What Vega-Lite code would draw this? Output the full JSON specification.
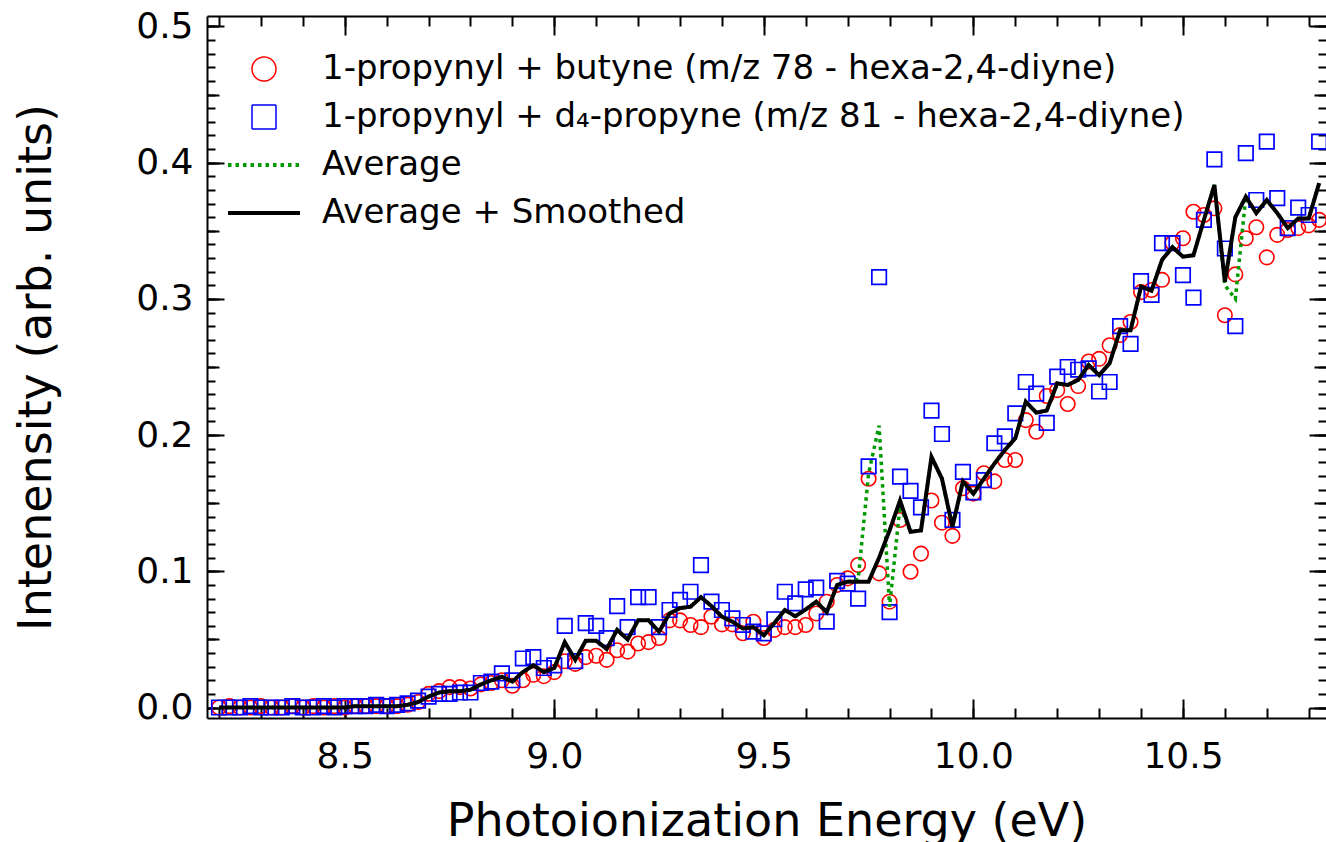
{
"$schema":"https://vega.github.io/schema/vega-lite/v6.json",
"width":1119,"height":702,
"autosize":{"type":"none"},
"padding":{"left":207,"top":16,"right":0,"bottom":124},
"background":"white",
"config":{"view":{"stroke":null},
 "axis":{"grid":false,"domainColor":"black","domainWidth":2,"tickColor":"black","tickWidth":2,"labelFont":"DejaVu Sans","labelFontSize":36,"labelColor":"black","titleFont":"DejaVu Sans","titleFontSize":46,"titleFontWeight":"normal","titleColor":"black","labelFlush":false,"labelOverlap":false}},
"data":{"values":[
{"x":8.2,"butyne":0,"propyne":0,"average":0,"smoothed":0},
{"x":8.225,"butyne":0.001,"propyne":0,"average":0,"smoothed":0},
{"x":8.25,"butyne":0,"propyne":0,"average":0,"smoothed":0},
{"x":8.275,"butyne":0,"propyne":0.001,"average":0,"smoothed":0},
{"x":8.3,"butyne":0.001,"propyne":0,"average":0,"smoothed":0},
{"x":8.325,"butyne":0,"propyne":0,"average":0,"smoothed":0},
{"x":8.35,"butyne":0,"propyne":0,"average":0,"smoothed":0},
{"x":8.375,"butyne":0.001,"propyne":0.001,"average":0,"smoothed":0},
{"x":8.4,"butyne":0,"propyne":0,"average":0,"smoothed":0},
{"x":8.425,"butyne":0.001,"propyne":0,"average":0,"smoothed":0},
{"x":8.45,"butyne":0,"propyne":0.001,"average":0,"smoothed":0},
{"x":8.475,"butyne":0.001,"propyne":0,"average":0,"smoothed":0},
{"x":8.5,"butyne":0,"propyne":0.001,"average":0,"smoothed":0},
{"x":8.525,"butyne":0.001,"propyne":0.001,"average":0.001,"smoothed":0.001},
{"x":8.55,"butyne":0.001,"propyne":0.001,"average":0.001,"smoothed":0.001},
{"x":8.575,"butyne":0.001,"propyne":0.002,"average":0.001,"smoothed":0.001},
{"x":8.6,"butyne":0.001,"propyne":0.001,"average":0.001,"smoothed":0.001},
{"x":8.625,"butyne":0.001,"propyne":0.002,"average":0.001,"smoothed":0.001},
{"x":8.65,"butyne":0.002,"propyne":0.003,"average":0.002,"smoothed":0.002},
{"x":8.675,"butyne":0.004,"propyne":0.005,"average":0.004,"smoothed":0.004},
{"x":8.7,"butyne":0.010,"propyne":0.008,"average":0.008,"smoothed":0.008},
{"x":8.725,"butyne":0.012,"propyne":0.010,"average":0.011,"smoothed":0.011},
{"x":8.75,"butyne":0.015,"propyne":0.010,"average":0.012,"smoothed":0.012},
{"x":8.775,"butyne":0.015,"propyne":0.011,"average":0.012,"smoothed":0.012},
{"x":8.8,"butyne":0.014,"propyne":0.011,"average":0.013,"smoothed":0.013},
{"x":8.825,"butyne":0.017,"propyne":0.018,"average":0.017,"smoothed":0.017},
{"x":8.85,"butyne":0.018,"propyne":0.019,"average":0.020,"smoothed":0.020},
{"x":8.875,"butyne":0.020,"propyne":0.025,"average":0.0226,"smoothed":0.0226},
{"x":8.9,"butyne":0.016,"propyne":0.020,"average":0.019,"smoothed":0.019},
{"x":8.925,"butyne":0.020,"propyne":0.036,"average":0.026,"smoothed":0.026},
{"x":8.95,"butyne":0.024,"propyne":0.037,"average":0.031,"smoothed":0.031},
{"x":8.975,"butyne":0.023,"propyne":0.029,"average":0.026,"smoothed":0.026},
{"x":9.0,"butyne":0.026,"propyne":0.031,"average":0.029,"smoothed":0.029},
{"x":9.025,"butyne":0.034,"propyne":0.060,"average":0.048,"smoothed":0.048},
{"x":9.05,"butyne":0.032,"propyne":0.034,"average":0.035,"smoothed":0.035},
{"x":9.075,"butyne":0.037,"propyne":0.062,"average":0.049,"smoothed":0.049},
{"x":9.1,"butyne":0.038,"propyne":0.060,"average":0.049,"smoothed":0.049},
{"x":9.125,"butyne":0.035,"propyne":0.051,"average":0.043,"smoothed":0.043},
{"x":9.15,"butyne":0.042,"propyne":0.0745,"average":0.057,"smoothed":0.057},
{"x":9.175,"butyne":0.041,"propyne":0.059,"average":0.050,"smoothed":0.050},
{"x":9.2,"butyne":0.047,"propyne":0.081,"average":0.064,"smoothed":0.064},
{"x":9.225,"butyne":0.048,"propyne":0.081,"average":0.064,"smoothed":0.064},
{"x":9.25,"butyne":0.051,"propyne":0.059,"average":0.0557,"smoothed":0.0557},
{"x":9.275,"butyne":0.064,"propyne":0.0716,"average":0.069,"smoothed":0.069},
{"x":9.3,"butyne":0.064,"propyne":0.079,"average":0.073,"smoothed":0.073},
{"x":9.325,"butyne":0.0606,"propyne":0.085,"average":0.074,"smoothed":0.074},
{"x":9.35,"butyne":0.059,"propyne":0.1046,"average":0.081,"smoothed":0.081},
{"x":9.375,"butyne":0.0667,"propyne":0.0777,"average":0.0745,"smoothed":0.0745},
{"x":9.4,"butyne":0.061,"propyne":0.0716,"average":0.0667,"smoothed":0.0667},
{"x":9.425,"butyne":0.061,"propyne":0.0655,"average":0.063,"smoothed":0.063},
{"x":9.45,"butyne":0.0545,"propyne":0.0606,"average":0.058,"smoothed":0.058},
{"x":9.475,"butyne":0.063,"propyne":0.0557,"average":0.059,"smoothed":0.059},
{"x":9.5,"butyne":0.051,"propyne":0.0545,"average":0.053,"smoothed":0.053},
{"x":9.525,"butyne":0.057,"propyne":0.0648,"average":0.062,"smoothed":0.062},
{"x":9.55,"butyne":0.059,"propyne":0.085,"average":0.0716,"smoothed":0.0716},
{"x":9.575,"butyne":0.059,"propyne":0.0765,"average":0.067,"smoothed":0.067},
{"x":9.6,"butyne":0.0606,"propyne":0.0868,"average":0.072,"smoothed":0.072},
{"x":9.625,"butyne":0.069,"propyne":0.088,"average":0.0777,"smoothed":0.0777},
{"x":9.65,"butyne":0.0777,"propyne":0.063,"average":0.070,"smoothed":0.070},
{"x":9.675,"butyne":0.090,"propyne":0.093,"average":0.090,"smoothed":0.090},
{"x":9.7,"butyne":0.0948,"propyne":0.091,"average":0.0924,"smoothed":0.0924},
{"x":9.725,"butyne":0.1046,"propyne":0.080,"average":0.094,"smoothed":0.0924},
{"x":9.75,"butyne":0.168,"propyne":0.177,"average":0.172,"smoothed":0.0924},
{"x":9.775,"butyne":0.0985,"propyne":0.316,"average":0.207,"smoothed":0.110},
{"x":9.8,"butyne":0.0777,"propyne":0.070,"average":0.074,"smoothed":0.130},
{"x":9.825,"butyne":0.1377,"propyne":0.1695,"average":0.148,"smoothed":0.152},
{"x":9.85,"butyne":0.0997,"propyne":0.159,"average":0.129,"smoothed":0.129},
{"x":9.875,"butyne":0.113,"propyne":0.147,"average":0.130,"smoothed":0.130},
{"x":9.9,"butyne":0.152,"propyne":0.218,"average":0.184,"smoothed":0.184},
{"x":9.925,"butyne":0.1357,"propyne":0.2008,"average":0.168,"smoothed":0.168},
{"x":9.95,"butyne":0.126,"propyne":0.1377,"average":0.1327,"smoothed":0.1327},
{"x":9.975,"butyne":0.161,"propyne":0.173,"average":0.166,"smoothed":0.166},
{"x":10.0,"butyne":0.157,"propyne":0.158,"average":0.157,"smoothed":0.157},
{"x":10.025,"butyne":0.172,"propyne":0.167,"average":0.168,"smoothed":0.168},
{"x":10.05,"butyne":0.166,"propyne":0.194,"average":0.179,"smoothed":0.179},
{"x":10.075,"butyne":0.1817,"propyne":0.199,"average":0.189,"smoothed":0.189},
{"x":10.1,"butyne":0.1817,"propyne":0.216,"average":0.1977,"smoothed":0.1977},
{"x":10.125,"butyne":0.211,"propyne":0.239,"average":0.2245,"smoothed":0.2245},
{"x":10.15,"butyne":0.2025,"propyne":0.2305,"average":0.2165,"smoothed":0.2165},
{"x":10.175,"butyne":0.2287,"propyne":0.209,"average":0.218,"smoothed":0.218},
{"x":10.2,"butyne":0.233,"propyne":0.243,"average":0.238,"smoothed":0.238},
{"x":10.225,"butyne":0.2228,"propyne":0.250,"average":0.2368,"smoothed":0.2368},
{"x":10.25,"butyne":0.236,"propyne":0.248,"average":0.2405,"smoothed":0.2405},
{"x":10.275,"butyne":0.254,"propyne":0.249,"average":0.2515,"smoothed":0.2515},
{"x":10.3,"butyne":0.256,"propyne":0.232,"average":0.244,"smoothed":0.244},
{"x":10.325,"butyne":0.266,"propyne":0.239,"average":0.2527,"smoothed":0.2527},
{"x":10.35,"butyne":0.2735,"propyne":0.280,"average":0.277,"smoothed":0.277},
{"x":10.375,"butyne":0.283,"propyne":0.267,"average":0.277,"smoothed":0.277},
{"x":10.4,"butyne":0.305,"propyne":0.313,"average":0.309,"smoothed":0.309},
{"x":10.425,"butyne":0.3065,"propyne":0.303,"average":0.306,"smoothed":0.306},
{"x":10.45,"butyne":0.314,"propyne":0.341,"average":0.3286,"smoothed":0.3286},
{"x":10.475,"butyne":0.341,"propyne":0.341,"average":0.338,"smoothed":0.338},
{"x":10.5,"butyne":0.3445,"propyne":0.3175,"average":0.331,"smoothed":0.331},
{"x":10.525,"butyne":0.364,"propyne":0.301,"average":0.332,"smoothed":0.332},
{"x":10.55,"butyne":0.3616,"propyne":0.358,"average":0.358,"smoothed":0.358},
{"x":10.575,"butyne":0.3665,"propyne":0.4025,"average":0.3836,"smoothed":0.3836},
{"x":10.6,"butyne":0.288,"propyne":0.337,"average":0.310,"smoothed":0.3126},
{"x":10.625,"butyne":0.318,"propyne":0.280,"average":0.300,"smoothed":0.360},
{"x":10.65,"butyne":0.3445,"propyne":0.407,"average":0.375,"smoothed":0.375},
{"x":10.675,"butyne":0.3526,"propyne":0.3726,"average":0.363,"smoothed":0.363},
{"x":10.7,"butyne":0.3305,"propyne":0.4155,"average":0.3726,"smoothed":0.3726},
{"x":10.725,"butyne":0.347,"propyne":0.374,"average":0.363,"smoothed":0.363},
{"x":10.75,"butyne":0.3506,"propyne":0.352,"average":0.352,"smoothed":0.352},
{"x":10.775,"butyne":0.352,"propyne":0.367,"average":0.359,"smoothed":0.359},
{"x":10.8,"butyne":0.354,"propyne":0.3616,"average":0.359,"smoothed":0.359},
{"x":10.825,"butyne":0.358,"propyne":0.4155,"average":0.385,"smoothed":0.385}
]},
"resolve":{"axis":{"x":"independent","y":"independent"}},
"layer":[
{"mark":{"type":"point","filled":false,"size":210,"strokeWidth":1.6,"opacity":1},
 "encoding":{
  "x":{"field":"x","type":"quantitative","scale":{"domain":[8.1714,10.8413],"nice":false,"zero":false},
   "axis":{"orient":"bottom","values":[8.5,9,9.5,10,10.5],"format":".1f","tickSize":-19,"labelPadding":68,"labelBaseline":"alphabetic","domain":true,"title":"Photoionization Energy (eV)","titleY":117,"titleBaseline":"alphabetic"}},
  "y":{"field":"butyne","type":"quantitative","scale":{"domain":[-0.0077,0.5077],"nice":false,"zero":false},
   "axis":{"orient":"left","values":[0,0.1,0.2,0.3,0.4,0.5],"format":".1f","tickSize":-17,"labelPadding":31,"domain":true,"title":"Intenensity (arb. units)","titleX":-157,"titleBaseline":"alphabetic"}},
  "color":{"datum":"1-propynyl + butyne (m/z 78 - hexa-2,4-diyne)","type":"nominal",
   "scale":{"domain":["1-propynyl + butyne (m/z 78 - hexa-2,4-diyne)","1-propynyl + d\u2084-propyne (m/z 81 - hexa-2,4-diyne)","Average","Average + Smoothed"],"range":["#ff0000","#0000ff","#009900","#000000"]},
   "legend":{"orient":"none","legendX":40,"legendY":36,"title":null,"padding":0,"labelFont":"DejaVu Sans","labelFontSize":34,"labelColor":"black","labelLimit":1500,"labelOffset":41,"symbolSize":576,"symbolStrokeWidth":1.5,"symbolFillColor":"transparent","symbolOpacity":1,"rowPadding":14}},
  "shape":{"datum":"1-propynyl + butyne (m/z 78 - hexa-2,4-diyne)","type":"nominal",
   "scale":{"domain":["1-propynyl + butyne (m/z 78 - hexa-2,4-diyne)","1-propynyl + d\u2084-propyne (m/z 81 - hexa-2,4-diyne)","Average","Average + Smoothed"],"range":["circle","square","M-3,-0.1H3M-3,-0.03H3M-3,0.03H3M-3,0.1H3","M-3,-0.1H3M-3,-0.03H3M-3,0.03H3M-3,0.1H3"]},
   "legend":{"orient":"none","legendX":40,"legendY":36,"title":null,"padding":0,"labelFont":"DejaVu Sans","labelFontSize":34,"labelColor":"black","labelLimit":1500,"labelOffset":41,"symbolSize":576,"symbolStrokeWidth":1.5,"symbolFillColor":"transparent","symbolOpacity":1,"rowPadding":14}}
 }},
{"mark":{"type":"point","filled":false,"size":210,"strokeWidth":1.7,"opacity":1},
 "encoding":{
  "x":{"field":"x","type":"quantitative","axis":{"orient":"bottom","values":[8.2,8.3,8.4,8.5,8.6,8.7,8.8,8.9,9.0,9.1,9.2,9.3,9.4,9.5,9.6,9.7,9.8,9.9,10.0,10.1,10.2,10.3,10.4,10.5,10.6,10.7,10.8],"tickSize":-10,"labels":false,"domain":false,"title":null}},
  "y":{"field":"propyne","type":"quantitative","axis":{"orient":"left","values":[0,0.01,0.02,0.03,0.04,0.05,0.06,0.07,0.08,0.09,0.1,0.11,0.12,0.13,0.14,0.15,0.16,0.17,0.18,0.19,0.2,0.21,0.22,0.23,0.24,0.25,0.26,0.27,0.28,0.29,0.3,0.31,0.32,0.33,0.34,0.35,0.36,0.37,0.38,0.39,0.4,0.41,0.42,0.43,0.44,0.45,0.46,0.47,0.48,0.49,0.5],"tickSize":-8,"labels":false,"domain":false,"title":null}},
  "color":{"datum":"1-propynyl + d\u2084-propyne (m/z 81 - hexa-2,4-diyne)","type":"nominal",
   "legend":{"orient":"none","legendX":40,"legendY":36,"title":null,"padding":0,"labelFont":"DejaVu Sans","labelFontSize":34,"labelColor":"black","labelLimit":1500,"labelOffset":41,"symbolSize":576,"symbolStrokeWidth":1.5,"symbolFillColor":"transparent","symbolOpacity":1,"rowPadding":14}},
  "shape":{"datum":"1-propynyl + d\u2084-propyne (m/z 81 - hexa-2,4-diyne)","type":"nominal",
   "legend":{"orient":"none","legendX":40,"legendY":36,"title":null,"padding":0,"labelFont":"DejaVu Sans","labelFontSize":34,"labelColor":"black","labelLimit":1500,"labelOffset":41,"symbolSize":576,"symbolStrokeWidth":1.5,"symbolFillColor":"transparent","symbolOpacity":1,"rowPadding":14}}
 }},
{"mark":{"type":"line","strokeWidth":3.5},
 "encoding":{
  "x":{"field":"x","type":"quantitative","axis":{"orient":"top","values":[8.5,9,9.5,10,10.5],"tickSize":-19,"labels":false,"domain":true,"title":null}},
  "y":{"field":"average","type":"quantitative","axis":{"orient":"right","values":[0,0.1,0.2,0.3,0.4,0.5],"tickSize":-17,"labels":false,"domain":false,"title":null}},
  "color":{"datum":"Average","type":"nominal",
   "legend":{"orient":"none","legendX":40,"legendY":36,"title":null,"padding":0,"labelFont":"DejaVu Sans","labelFontSize":34,"labelColor":"black","labelLimit":1500,"labelOffset":41,"symbolSize":576,"symbolStrokeWidth":1.5,"symbolFillColor":"transparent","symbolOpacity":1,"rowPadding":14}},
  "strokeDash":{"datum":"Average","type":"nominal",
   "scale":{"domain":["1-propynyl + butyne (m/z 78 - hexa-2,4-diyne)","1-propynyl + d\u2084-propyne (m/z 81 - hexa-2,4-diyne)","Average","Average + Smoothed"],"range":[[1,0],[1,0],[3.5,4],[1,0]]},
   "legend":{"orient":"none","legendX":40,"legendY":36,"title":null,"padding":0,"labelFont":"DejaVu Sans","labelFontSize":34,"labelColor":"black","labelLimit":1500,"labelOffset":41,"symbolSize":576,"symbolStrokeWidth":1.5,"symbolFillColor":"transparent","symbolOpacity":1,"rowPadding":14}}
 }},
{"mark":{"type":"line","strokeWidth":4},
 "encoding":{
  "x":{"field":"x","type":"quantitative","axis":{"orient":"top","values":[8.2,8.3,8.4,8.5,8.6,8.7,8.8,8.9,9.0,9.1,9.2,9.3,9.4,9.5,9.6,9.7,9.8,9.9,10.0,10.1,10.2,10.3,10.4,10.5,10.6,10.7,10.8],"tickSize":-10,"labels":false,"domain":false,"title":null}},
  "y":{"field":"smoothed","type":"quantitative","axis":{"orient":"right","values":[0,0.01,0.02,0.03,0.04,0.05,0.06,0.07,0.08,0.09,0.1,0.11,0.12,0.13,0.14,0.15,0.16,0.17,0.18,0.19,0.2,0.21,0.22,0.23,0.24,0.25,0.26,0.27,0.28,0.29,0.3,0.31,0.32,0.33,0.34,0.35,0.36,0.37,0.38,0.39,0.4,0.41,0.42,0.43,0.44,0.45,0.46,0.47,0.48,0.49,0.5],"tickSize":-8,"labels":false,"domain":false,"title":null}},
  "color":{"datum":"Average + Smoothed","type":"nominal",
   "legend":{"orient":"none","legendX":40,"legendY":36,"title":null,"padding":0,"labelFont":"DejaVu Sans","labelFontSize":34,"labelColor":"black","labelLimit":1500,"labelOffset":41,"symbolSize":576,"symbolStrokeWidth":1.5,"symbolFillColor":"transparent","symbolOpacity":1,"rowPadding":14}},
  "strokeDash":{"datum":"Average + Smoothed","type":"nominal",
   "legend":{"orient":"none","legendX":40,"legendY":36,"title":null,"padding":0,"labelFont":"DejaVu Sans","labelFontSize":34,"labelColor":"black","labelLimit":1500,"labelOffset":41,"symbolSize":576,"symbolStrokeWidth":1.5,"symbolFillColor":"transparent","symbolOpacity":1,"rowPadding":14}}
 }},
{"mark":{"type":"point","opacity":0,"size":1},
 "encoding":{
  "x":{"field":"x","type":"quantitative","axis":null},
  "y":{"field":"butyne","type":"quantitative","axis":{"orient":"left","values":[0,0.05,0.1,0.15,0.2,0.25,0.3,0.35,0.4,0.45,0.5],"tickSize":-12,"labels":false,"domain":false,"title":null}}
 }},
{"mark":{"type":"point","opacity":0,"size":1},
 "encoding":{
  "x":{"field":"x","type":"quantitative","axis":null},
  "y":{"field":"butyne","type":"quantitative","axis":{"orient":"right","values":[0,0.05,0.1,0.15,0.2,0.25,0.3,0.35,0.4,0.45,0.5],"tickSize":-12,"labels":false,"domain":false,"title":null}}
 }}
]
}
